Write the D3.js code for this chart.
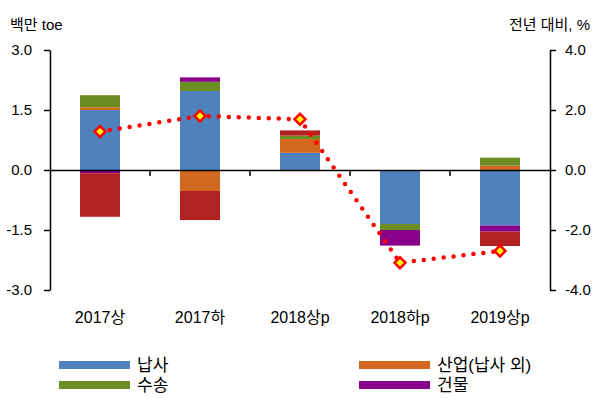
<!DOCTYPE html>
<html lang="ko">
<head>
<meta charset="utf-8">
<title>납사 등 부문별 증감</title>
<script src="https://cdn.jsdelivr.net/npm/d3@7"></script>
<style>
  body { margin: 0; background: #fff; }
  svg text { font-family: "Liberation Sans", "Noto Sans CJK KR", sans-serif; fill: #000; }
</style>
</head>
<body>
<svg width="600" height="398"></svg>
<script>
// categories and series
const categories = ["2017상", "2017하", "2018상p", "2018하p", "2019상p"];
const naphtha  = [1.50, 1.975, 0.43, -1.35, -1.39];   // 납사
const industry = [0.07, -0.525, 0.345, 0.0, 0.11];    // 산업(납사 외)
const transport = [0.30, 0.23, 0.085, -0.15, 0.20];   // 수송
const building = [-0.08, 0.11, -0.02, -0.39, -0.15];  // 건물
const other    = [-1.09, -0.725, 0.13, 0.0, -0.36];   // 기타 (not in legend)
const yoy      = [1.28, 1.80, 1.69, -3.09, -2.70];    // 전년 대비, %

const leftTicks = [-3, -1.5, 0, 1.5, 3];
const rightTicks = [-4, -2, 0, 2, 4];

const series = [
  { key: "납사", values: naphtha, color: "#4F81BD", legend: true },
  { key: "산업(납사 외)", values: industry, color: "#D2691E", legend: true },
  { key: "수송", values: transport, color: "#6B8E23", legend: true },
  { key: "건물", values: building, color: "#8B008B", legend: true },
  { key: "기타", values: other, color: "#B22222", legend: false }
];

const rows = categories.map((c, i) => {
  const r = { cat: c };
  series.forEach(s => { r[s.key] = s.values[i]; });
  return r;
});

const svg = d3.select("svg"),
    plotLeft = 50, plotRight = 550, plotTop = 50, plotBottom = 290;

const x = d3.scaleBand().domain(categories).range([plotLeft, plotRight])
    .paddingInner(0.6).paddingOuter(0.3);
const yL = d3.scaleLinear().domain([-3, 3]).range([plotBottom, plotTop]);
const yR = d3.scaleLinear().domain([-4, 4]).range([plotBottom, plotTop]);

const stack = d3.stack()
    .keys(series.map(s => s.key))
    .offset(d3.stackOffsetDiverging);
const stacked = stack(rows);

// bars
svg.append("g").selectAll("g")
  .data(stacked)
  .join("g")
    .attr("fill", (d, i) => series[i].color)
  .selectAll("rect")
  .data(d => d)
  .join("rect")
    .attr("x", d => x(d.data.cat))
    .attr("width", x.bandwidth())
    .attr("y", d => yL(Math.max(d[0], d[1])))
    .attr("height", d => Math.abs(yL(d[0]) - yL(d[1])));

// zero line with category separators
svg.append("g")
    .attr("transform", "translate(0," + yL(0) + ")")
    .call(d3.axisBottom(x).tickSize(0).tickSizeOuter(0).tickFormat(""))
    .call(g => g.select(".domain").attr("stroke", "#000").attr("stroke-width", 1.5));

const step = x.step();
svg.append("g").selectAll("line")
  .data(categories.slice(1))
  .join("line")
    .attr("x1", d => x(d) - (step - x.bandwidth()) / 2)
    .attr("x2", d => x(d) - (step - x.bandwidth()) / 2)
    .attr("y1", yL(0))
    .attr("y2", yL(0) + 6)
    .attr("stroke", "#000")
    .attr("stroke-width", 1.5);

// category labels
svg.append("g")
    .attr("transform", "translate(0," + plotBottom + ")")
    .call(d3.axisBottom(x).tickSize(0).tickPadding(22))
    .call(g => g.select(".domain").remove())
    .selectAll("text")
    .style("font-size", "16px");

// left axis
svg.append("g")
    .attr("transform", "translate(" + plotLeft + ",0)")
    .call(d3.axisLeft(yL).tickValues(leftTicks).tickSize(6).tickSizeOuter(0)
      .tickPadding(12).tickFormat(d => d.toFixed(1)))
    .call(g => g.selectAll("line, path").attr("stroke", "#000").attr("stroke-width", 1.5))
    .selectAll("text")
    .style("font-size", "15px");

// right axis
svg.append("g")
    .attr("transform", "translate(" + plotRight + ",0)")
    .call(d3.axisRight(yR).tickValues(rightTicks).tickSize(6).tickSizeOuter(0)
      .tickPadding(9).tickFormat(d => d.toFixed(1)))
    .call(g => g.selectAll("line, path").attr("stroke", "#000").attr("stroke-width", 1.5))
    .selectAll("text")
    .style("font-size", "15px");

// axis titles
svg.append("text").attr("x", 10).attr("y", 30)
    .style("font-size", "15px").text("백만 toe");
svg.append("text").attr("x", 590).attr("y", 30).attr("text-anchor", "end")
    .style("font-size", "15px").text("전년 대비, %");

// dotted yoy line
const line = d3.line()
    .x((d, i) => x(categories[i]) + x.bandwidth() / 2)
    .y(d => yR(d));

svg.append("path")
    .datum(yoy)
    .attr("fill", "none")
    .attr("stroke", "#FF0000")
    .attr("stroke-width", 4.5)
    .attr("stroke-linecap", "round")
    .attr("stroke-dasharray", "0 10")
    .attr("d", line);

svg.append("g").selectAll("path")
  .data(yoy)
  .join("path")
    .attr("d", d3.symbol(d3.symbolSquare, 60))
    .attr("transform", (d, i) => "translate(" + (x(categories[i]) + x.bandwidth() / 2) + "," + yR(d) + ") rotate(45)")
    .attr("fill", "#FFFF00")
    .attr("stroke", "#FF0000")
    .attr("stroke-width", 2.5);

// legend
const legendItems = series.filter(s => s.legend);
const lg = svg.append("g").selectAll("g")
  .data(legendItems)
  .join("g")
    .attr("transform", (d, i) => "translate(" + (i % 2 ? 359 : 59) + "," + (i < 2 ? 361 : 381) + ")");

lg.append("rect").attr("width", 71).attr("height", 8).attr("fill", d => d.color);
lg.append("text").attr("x", 78).attr("y", 4).attr("dy", "0.36em")
    .style("font-size", "17px").text(d => d.key);
</script>
</body>
</html>
